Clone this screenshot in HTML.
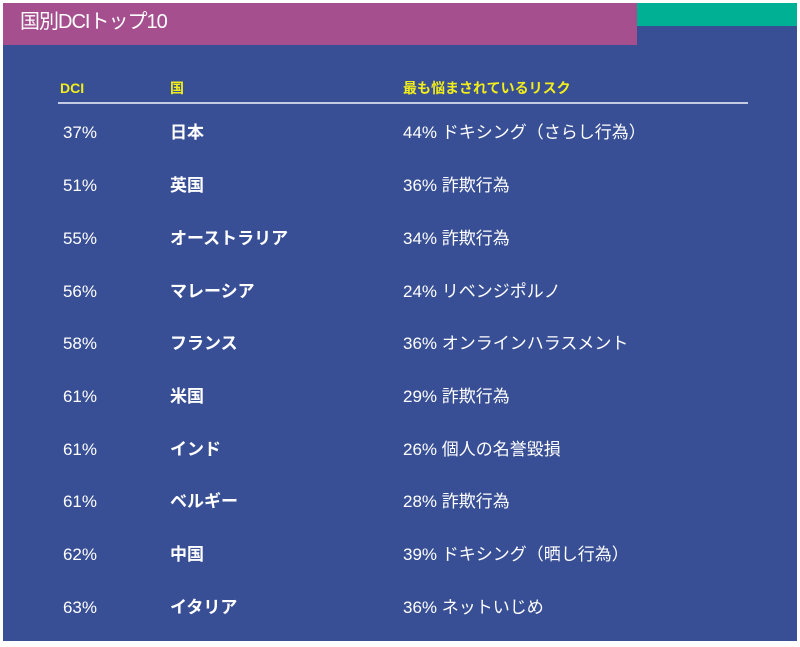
<!DOCTYPE html>
<html><head><meta charset="utf-8"><style>
body{margin:0;width:800px;height:647px;background:#fff;position:relative;overflow:hidden;font-family:"Liberation Sans","Noto Sans CJK JP",sans-serif;}
#bg{position:absolute;left:3px;top:3px;width:794px;height:638px;background:#384f95;}
#mag{position:absolute;left:3px;top:3px;width:634px;height:42px;background:#a54f8f;}
#teal{position:absolute;left:637px;top:3px;width:160px;height:23px;background:#00b094;}
#title{position:absolute;left:20px;top:12px;color:#fff;font-size:20px;letter-spacing:-1px;}
.t{position:absolute;white-space:nowrap;line-height:1;}
.h{color:#f2ee1a;font-size:14px;font-weight:bold;top:81px;}
.d{color:#fff;font-size:17px;width:60px;text-align:right;left:37px;}
.c{color:#fff;font-size:17px;font-weight:bold;left:170px;}
.r{color:#fff;font-size:17px;left:403px;}
#line{position:absolute;left:58px;top:102px;width:690px;height:2px;background:#c5cbe2;}
</style></head><body>
<div id="bg"></div><div id="mag"></div><div id="teal"></div>
<div id="title" class="t">国別DCIトップ10</div>
<div class="t h" style="left:60px">DCI</div>
<div class="t h" style="left:170px">国</div>
<div class="t h" style="left:403px">最も悩まされているリスク</div>
<div id="line"></div>
<div class="t d" style="top:124px">37%</div><div class="t c" style="top:124px">日本</div><div class="t r" style="top:124px">44% ドキシング（さらし行為）</div>
<div class="t d" style="top:177px">51%</div><div class="t c" style="top:177px">英国</div><div class="t r" style="top:177px">36% 詐欺行為</div>
<div class="t d" style="top:230px">55%</div><div class="t c" style="top:230px">オーストラリア</div><div class="t r" style="top:230px">34% 詐欺行為</div>
<div class="t d" style="top:283px">56%</div><div class="t c" style="top:283px">マレーシア</div><div class="t r" style="top:283px">24% リベンジポルノ</div>
<div class="t d" style="top:335px">58%</div><div class="t c" style="top:335px">フランス</div><div class="t r" style="top:335px">36% オンラインハラスメント</div>
<div class="t d" style="top:388px">61%</div><div class="t c" style="top:388px">米国</div><div class="t r" style="top:388px">29% 詐欺行為</div>
<div class="t d" style="top:441px">61%</div><div class="t c" style="top:441px">インド</div><div class="t r" style="top:441px">26% 個人の名誉毀損</div>
<div class="t d" style="top:493px">61%</div><div class="t c" style="top:493px">ベルギー</div><div class="t r" style="top:493px">28% 詐欺行為</div>
<div class="t d" style="top:546px">62%</div><div class="t c" style="top:546px">中国</div><div class="t r" style="top:546px">39% ドキシング（晒し行為）</div>
<div class="t d" style="top:599px">63%</div><div class="t c" style="top:599px">イタリア</div><div class="t r" style="top:599px">36% ネットいじめ</div>
</body></html>
